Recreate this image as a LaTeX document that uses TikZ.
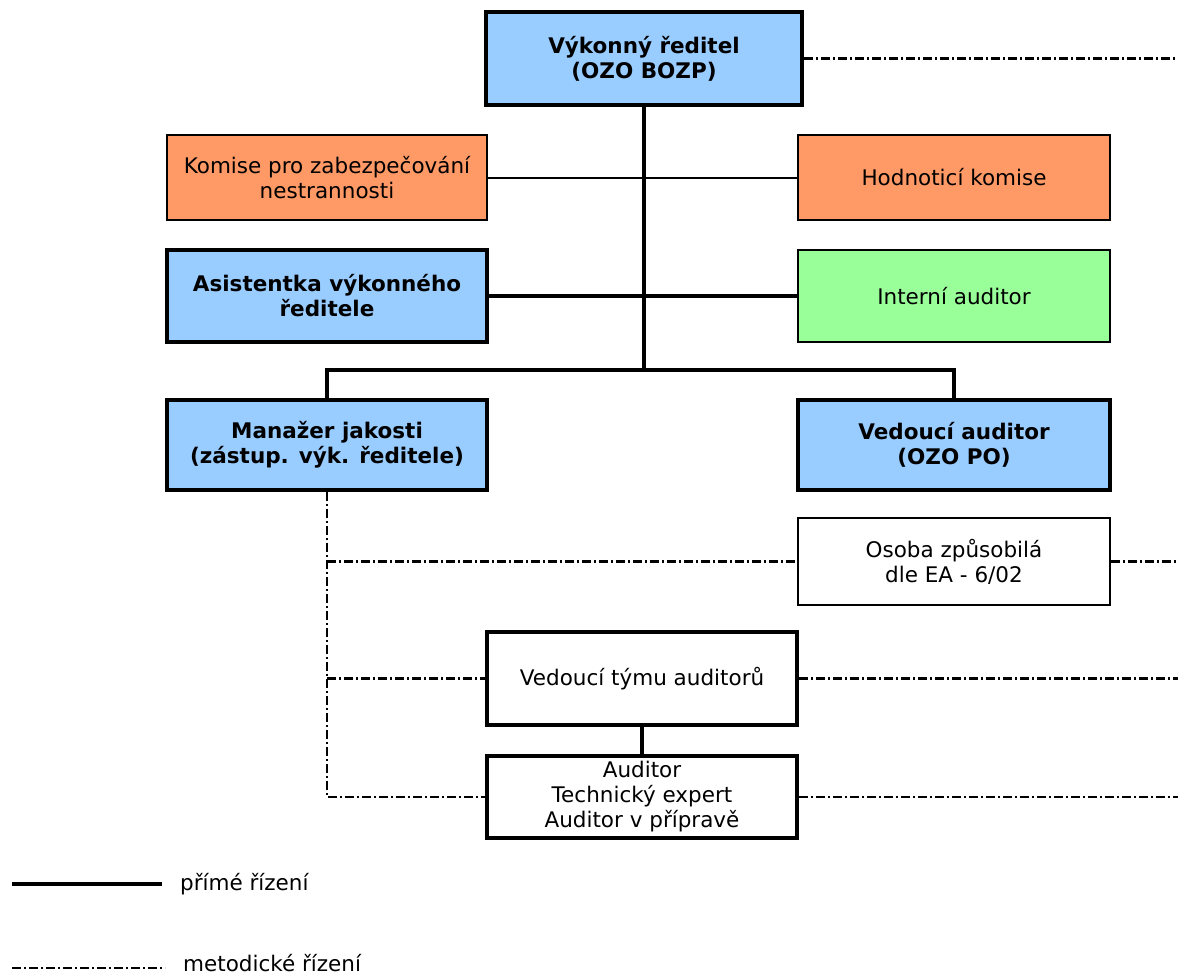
\documentclass[tikz,border=0pt]{standalone}
\usepackage{fontspec}
\setmainfont{DejaVu Sans}
\definecolor{cblue}{HTML}{99CCFF}
\definecolor{corange}{HTML}{FF9966}
\definecolor{cgreen}{HTML}{99FF99}
\begin{document}
\begin{tikzpicture}[x=1pt,y=-1pt,
  box/.style={draw=black, rectangle, align=center, inner sep=2pt,
    font=\fontsize{21.5}{25}\selectfont},
  thickbox/.style={box, line width=4pt},
  thinbox/.style={box, line width=2pt},
  strong/.style={line width=3.8pt},
  weak/.style={line width=2pt},
  dd/.style={line width=2.2pt, dash pattern=on 9pt off 3pt on 2pt off 3pt},
  lbl/.style={anchor=west, inner sep=0pt, font=\fontsize{21.5}{25}\selectfont}]
\useasboundingbox (0,0) rectangle (1178,977);
\coordinate (R) at (1178,0);
\coordinate (lvl) at (0,370);
% boxes
\node[thickbox, fill=cblue, minimum width=316pt, minimum height=93pt] (vr) at (644,58.5)
  {\bfseries Výkonný ředitel\\\bfseries (OZO BOZP)};
\node[thinbox, fill=corange, minimum width=320pt, minimum height=85pt] (kom) at (327,177.5)
  {Komise pro zabezpečování\\nestrannosti};
\node[thinbox, fill=corange, minimum width=312pt, minimum height=85pt] (hod) at (954,177.5)
  {Hodnoticí komise};
\node[thickbox, fill=cblue, minimum width=320pt, minimum height=92pt] (asi) at (327,296)
  {\bfseries Asistentka výkonného\\\bfseries ředitele};
\node[thinbox, fill=cgreen, minimum width=312pt, minimum height=92pt] (int) at (954,296)
  {Interní auditor};
\node[thickbox, fill=cblue, minimum width=320pt, minimum height=90pt] (man) at (327,445)
  {\bfseries Manažer jakosti\\\bfseries (zástup. výk. ředitele)};
\node[thickbox, fill=cblue, minimum width=312pt, minimum height=90pt] (ved) at (954,445)
  {\bfseries Vedoucí auditor\\\bfseries (OZO PO)};
\node[thinbox, fill=white, minimum width=312pt, minimum height=87pt] (oso) at (954,561.5)
  {Osoba způsobilá\\dle EA - 6/02};
\node[thickbox, fill=white, minimum width=310pt, minimum height=93pt] (vta) at (642,678.5)
  {Vedoucí týmu auditorů};
\node[thickbox, fill=white, minimum width=310pt, minimum height=82pt] (aud) at (642,797)
  {Auditor\\Technický expert\\Auditor v přípravě};
\coordinate (jn) at (vr.south |- lvl);
% direct lines
\draw[weak] (kom.east) -- (hod.west);
\draw[strong] (asi.east) -- (int.west);
\draw[strong] (vr.south) -- (jn);
\draw[strong] (man.north) |- (jn) -| (ved.north);
\draw[strong] (vta.south) -- (aud.north);
% methodical lines
\draw[dd] (vr.east) -- (vr.east -| R);
\draw[dd] (oso.east) -- (oso.east -| R);
\draw[dd] (vta.east) -- (vta.east -| R);
\draw[dd] (aud.east) -- (aud.east -| R);
\draw[dd] (man.south) |- (aud.west);
\draw[dd] (man.south |- oso.west) -- (oso.west);
\draw[dd] (man.south |- vta.west) -- (vta.west);
% legend
\coordinate (l1a) at (12,884);
\coordinate (l1b) at (162,884);
\coordinate (l2a) at (12,968);
\coordinate (l2b) at (165,968);
\draw[line width=4pt] (l1a) -- (l1b);
\node[lbl] (t1) at (180,884) {přímé řízení};
\draw[dd] (l2a) -- (l2b);
\node[lbl] (t2) at (183,963) {metodické řízení};
\end{tikzpicture}
\end{document}
